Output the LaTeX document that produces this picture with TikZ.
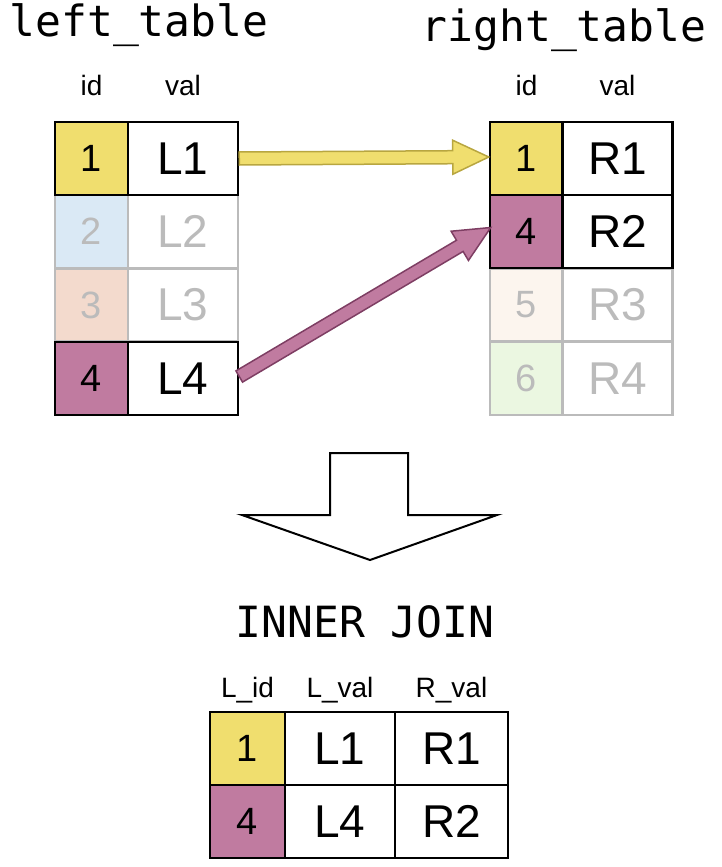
\documentclass[tikz,border=0pt]{standalone}
\usepackage{fontspec}
\setmainfont{Liberation Sans}
\newfontfamily\monof{DejaVu Sans Mono}
\usetikzlibrary{calc}
\definecolor{cy}{HTML}{F0DE6E}
\definecolor{cyd}{HTML}{B8A640}
\definecolor{cb}{HTML}{DAE9F5}
\definecolor{cpe}{HTML}{F3DACD}
\definecolor{cp}{HTML}{C07BA0}
\definecolor{cpd}{HTML}{7E3E63}
\definecolor{c5}{HTML}{FCF5EE}
\definecolor{c6}{HTML}{EBF7E1}
\definecolor{fg}{HTML}{BBBBBB}
\newcommand\fatarrow[4]{% start, end, fill, draw
  \coordinate (hb) at ($(#2)!36pt!(#1)$);
  \draw[line width=1.5pt,fill=#3,draw=#4,line join=miter]
    ($(#1)!6.5pt!90:(#2)$) -- ($(hb)!6.5pt!-90:(#1)$) -- ($(hb)!17pt!-90:(#1)$) -- (#2)
    -- ($(hb)!17pt!90:(#1)$) -- ($(hb)!6.5pt!90:(#1)$) -- ($(#1)!6.5pt!-90:(#2)$) -- cycle;}
\begin{document}
\begin{tikzpicture}[x=1pt,y=-1pt,
  cell/.style={draw=black,line width=2.5pt,minimum height=73pt,inner sep=0pt,font=\fontsize{46}{46}\selectfont},
  idc/.style={cell,minimum width=73pt,font=\fontsize{38}{38}\selectfont},
  valc/.style={cell,minimum width=110pt},
  faded/.style={draw=fg,text=fg},
  hdr/.style={font=\fontsize{28}{28}\selectfont},
  ttl/.style={font=\monof\fontsize{43}{43}\selectfont}]
\useasboundingbox (0,0) rectangle (722,867);
\node[ttl] (lt) at (139,25) {left\_table};
\node[ttl] (rt) at (564,30) {right\_table};
\node[hdr] (lh1) at (91.5,85) {id};
\node[hdr] (lh2) at (183,85) {val};
\node[hdr] (rh1) at (526.5,85) {id};
\node[hdr] (rh2) at (617.5,85) {val};
% left table
\node[idc,faded,fill=cb] (l2i) at (91.5,231.5) {2};
\node[valc,faded] (l2v) at (183,231.5) {L2};
\node[idc,faded,fill=cpe] (l3i) at (91.5,305) {3};
\node[valc,faded] (l3v) at (183,305) {L3};
\node[idc,fill=cy] (l1i) at (91.5,158.5) {1};
\node[valc] (l1v) at (183,158.5) {L1};
\node[idc,fill=cp] (l4i) at (91.5,378.5) {4};
\node[valc] (l4v) at (183,378.5) {L4};
% right table
\node[idc,faded,fill=c5] (r3i) at (526.5,305) {5};
\node[valc,faded] (r3v) at (617.5,305) {R3};
\node[idc,faded,fill=c6] (r4i) at (526.5,378.5) {6};
\node[valc,faded] (r4v) at (617.5,378.5) {R4};
\node[idc,fill=cy] (r1i) at (526.5,158.5) {1};
\node[valc] (r1v) at (617.5,158.5) {R1};
\node[idc,fill=cp] (r2i) at (526.5,231.5) {4};
\node[valc] (r2v) at (617.5,231.5) {R2};
% arrows
\coordinate (ys) at (l1v.east);
\coordinate (ye) at ([yshift=1.5pt]r1i.west);
\coordinate (ps) at ([yshift=2pt]l4v.east);
\coordinate (pe) at ([xshift=2pt,yshift=4pt]r2i.west);
\fatarrow{ys}{ye}{cy}{cyd}
\fatarrow{ps}{pe}{cp}{cpd}
% big arrow
\draw[line width=2pt,fill=white] (330,453) -- (408,453) -- (408,515) -- (497,515) -- (370,560) -- (242,515) -- (330,515) -- cycle;
\node[ttl] (ij) at (365,622) {INNER JOIN};
% result
\node[hdr] (oh1) at (247.5,690) {L\_id};
\node[hdr] (oh2) at (340,690) {L\_val};
\node[hdr] (oh3) at (451.5,690) {R\_val};
\node[idc,minimum width=75pt,fill=cy] (o1i) at (247.5,748.5) {1};
\node[valc] (o1l) at (340,748.5) {L1};
\node[cell,minimum width=113pt] (o1r) at (451.5,748.5) {R1};
\node[idc,minimum width=75pt,fill=cp] (o2i) at (247.5,821.5) {4};
\node[valc] (o2l) at (340,821.5) {L4};
\node[cell,minimum width=113pt] (o2r) at (451.5,821.5) {R2};
\end{tikzpicture}
\end{document}
